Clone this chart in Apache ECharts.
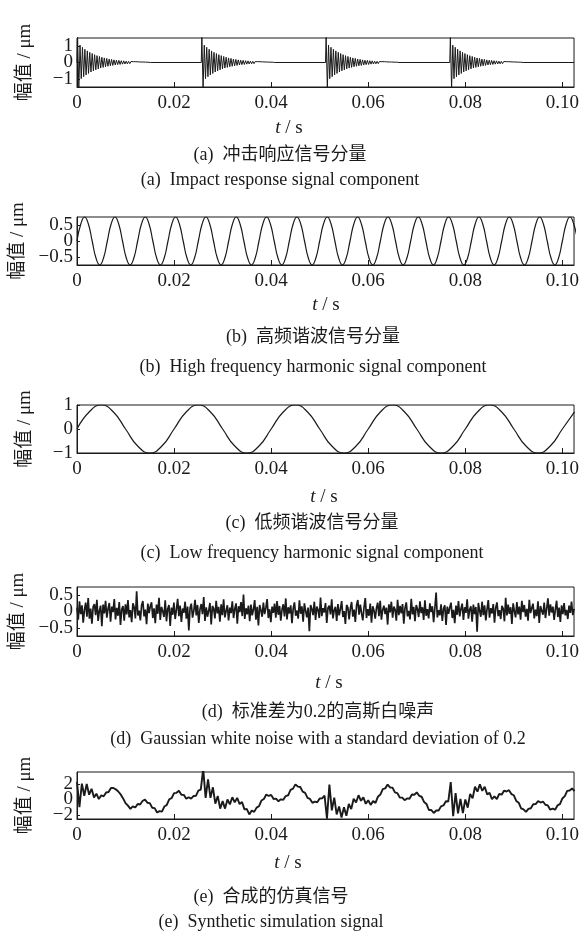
<!DOCTYPE html>
<html>
<head>
<meta charset="utf-8">
<script src="https://cdn.jsdelivr.net/npm/echarts@6/dist/echarts.min.js"></script>
<style>
html, body { margin: 0; padding: 0; background: #fff; }
#chart { width: 582px; height: 936px; }
</style>
</head>
<body>
<div id="chart"></div>
<script>
// x axis: time in s
const tEnd = 0.1024;
const xTicks = [0, 0.02, 0.04, 0.06, 0.08, 0.10];

// (a) impact response: start of each burst and the peaks inside one burst
const burstStarts = [0, 0.0256, 0.0512, 0.0768];
const burstStep = 0.00025;
const burstPeaks = [1.6, -1.6, 1.06, -0.99, 0.93, -0.87, 0.81, -0.76, 0.71, -0.67,
  0.62, -0.58, 0.55, -0.51, 0.48, -0.45, 0.42, -0.39, 0.37, -0.34,
  0.32, -0.30, 0.28, -0.26, 0.25, -0.23, 0.21, -0.20, 0.19, -0.18,
  0.16, -0.15, 0.14, -0.13, 0.13, -0.12, 0.11, -0.10, 0.10, -0.09,
  0.08, -0.08, 0.07, -0.07, 0.06, -0.06, 0.05, -0.05, 0.05, -0.04,
  0.04, -0.04, 0.03, -0.03, 0.03, -0.03, 0.02, -0.02, 0.02, -0.02];

// (b) high frequency harmonic, one value every 1/8 period
const hfStep = 0.00078125;
const hfValues = [
  0, 0.53, 0.75, 0.53, 0, -0.53, -0.75, -0.53, 0, 0.53, 0.75, 0.53, 0, -0.53, -0.75, -0.53,
  0, 0.53, 0.75, 0.53, 0, -0.53, -0.75, -0.53, 0, 0.53, 0.75, 0.53, 0, -0.53, -0.75, -0.53,
  0, 0.53, 0.75, 0.53, 0, -0.53, -0.75, -0.53, 0, 0.53, 0.75, 0.53, 0, -0.53, -0.75, -0.53,
  0, 0.53, 0.75, 0.53, 0, -0.53, -0.75, -0.53, 0, 0.53, 0.75, 0.53, 0, -0.53, -0.75, -0.53,
  0, 0.53, 0.75, 0.53, 0, -0.53, -0.75, -0.53, 0, 0.53, 0.75, 0.53, 0, -0.53, -0.75, -0.53,
  0, 0.53, 0.75, 0.53, 0, -0.53, -0.75, -0.53, 0, 0.53, 0.75, 0.53, 0, -0.53, -0.75, -0.53,
  0, 0.53, 0.75, 0.53, 0, -0.53, -0.75, -0.53, 0, 0.53, 0.75, 0.53, 0, -0.53, -0.75, -0.53,
  0, 0.53, 0.75, 0.53, 0, -0.53, -0.75, -0.53, 0, 0.53, 0.75, 0.53, 0, -0.53, -0.75, -0.53,
  0, 0.53, 0.75, 0.53, 0];

// (c) low frequency harmonic, one value every 1/8 period
const lfStep = 0.0025;
const lfValues = [
  0, 0.71, 1, 0.71, 0, -0.71, -1, -0.71, 0, 0.71, 1, 0.71, 0, -0.71, -1, -0.71,
  0, 0.71, 1, 0.71, 0, -0.71, -1, -0.71, 0, 0.71, 1, 0.71, 0, -0.71, -1, -0.71,
  0, 0.71, 1, 0.71, 0, -0.71, -1, -0.71, 0, 0.71];

// (d) gaussian white noise
const noiseStep = 0.000256;
const noiseValues = [
  0.12, -0.25, 0.31, -0.08, 0.19, -0.34, 0.05, 0.27, -0.16, 0.41, -0.22, 0.09, -0.37, 0.14, 0.23, -0.11, 0.36, -0.29, 0.02, 0.18,
  -0.45, 0.21, -0.06, 0.33, -0.19, 0.08, 0.26, -0.31, 0.15, -0.02, 0.38, -0.24, 0.11, -0.13, 0.29, -0.41, 0.07, 0.17, -0.28, 0.22,
  -0.09, 0.35, -0.18, 0.04, -0.33, 0.25, 0.13, -0.21, 0.62, -0.12, 0.03, -0.27, 0.19, 0.32, -0.15, 0.06, -0.39, 0.24, -0.05, 0.16,
  0.28, -0.2, 0.1, -0.36, 0.21, -0.07, 0.42, -0.26, 0.14, 0.01, -0.17, 0.34, -0.3, 0.08, 0.2, -0.44, 0.12, -0.1, 0.27, -0.23,
  0.05, 0.39, -0.14, 0.18, -0.32, 0.09, -0.04, 0.3, -0.22, 0.15, -0.58, 0.11, 0.24, -0.19, 0.02, 0.36, -0.12, 0.2, -0.35, 0.07,
  0.23, -0.08, 0.44, -0.29, 0.13, -0.16, 0.03, 0.26, -0.4, 0.17, 0.09, -0.21, 0.33, -0.06, 0.14, -0.31, 0.22, -0.11, 0.37, -0.18,
  0.01, 0.19, -0.27, 0.12, -0.05, 0.31, -0.2, 0.08, 0.25, -0.37, 0.16, -0.02, 0.29, -0.14, 0.52, -0.23, 0.1, -0.09, 0.18, -0.3,
  0.21, -0.12, 0.06, 0.35, -0.25, 0.14, -0.43, 0.2, 0.04, -0.16, 0.27, -0.08, 0.11, 0.38, -0.2, 0.07, -0.33, 0.15, -0.04, 0.24,
  -0.19, 0.32, -0.1, 0.17, -0.28, 0.06, 0.22, -0.15, 0.4, -0.24, 0.13, -0.06, 0.19, -0.36, 0.09, 0.28, -0.13, 0.03, -0.22, 0.34,
  -0.07, 0.16, -0.31, 0.25, 0.02, -0.18, 0.12, -0.6, 0.2, 0.08, -0.11, 0.3, -0.26, 0.15, 0.05, -0.2, 0.43, -0.14, 0.1, -0.03,
  0.26, -0.35, 0.11, 0.18, -0.09, 0.37, -0.21, 0.04, 0.14, -0.29, 0.23, -0.12, 0.08, 0.32, -0.17, 0.01, -0.38, 0.2, 0.12, -0.24,
  0.09, 0.29, -0.16, 0.06, -0.32, 0.19, 0.35, -0.1, 0.21, -0.05, -0.27, 0.13, 0.41, -0.2, 0.07, -0.13, 0.24, -0.34, 0.16, 0.03,
  -0.22, 0.1, 0.27, -0.14, 0.33, -0.25, 0.05, 0.18, -0.08, 0.12, -0.4, 0.22, -0.03, 0.3, -0.19, 0.15, 0.06, -0.28, 0.36, -0.11,
  0.17, -0.06, 0.23, -0.37, 0.11, 0.28, -0.15, 0.02, -0.24, 0.39, -0.09, 0.14, -0.3, 0.2, 0.08, -0.17, 0.31, -0.05, 0.13, -0.26,
  0.34, -0.13, 0.07, -0.21, 0.25, -0.02, 0.16, -0.33, 0.1, 0.58, -0.18, 0.04, -0.12, 0.22, -0.29, 0.09, 0.19, -0.41, 0.15, -0.07,
  0.12, 0.27, -0.2, 0.05, -0.36, 0.18, -0.1, 0.32, -0.15, 0.08, 0.24, -0.26, 0.13, -0.04, 0.37, -0.22, 0.06, 0.16, -0.31, 0.21,
  -0.08, 0.14, -0.62, 0.26, 0.03, -0.16, 0.3, -0.11, 0.19, -0.27, 0.07, 0.35, -0.19, 0.1, -0.06, 0.23, -0.34, 0.12, 0.28, -0.14,
  0.04, -0.23, 0.17, 0.09, -0.3, 0.42, -0.12, 0.21, -0.07, 0.13, -0.38, 0.25, 0.01, -0.18, 0.29, -0.09, 0.15, -0.25, 0.33, -0.02,
  0.2, -0.16, 0.08, -0.28, 0.36, -0.05, 0.11, 0.24, -0.21, 0.06, -0.14, 0.31, -0.35, 0.17, 0.02, -0.1, 0.27, -0.2, 0.09, 0.4,
  -0.13, 0.22, -0.03, 0.15, -0.26, 0.07, 0.33, -0.17, 0.12, -0.32, 0.19, -0.08, 0.26, -0.12, 0.05, -0.23, 0.18, -0.04, 0.3, -0.11,
  0.08];

// (e) synthetic simulation signal
const synthStep = 0.0005;
const synthValues = [
  2.25, -0.98, 2.02, 0.47, 1.97, 0.60, 1.35, 0.26, 0.73, 0.05, 0.52, 0.39, 0.88, 0.94, 1.46, 1.46, 1.29, 1.01, 0.64, 0.13,
  -0.47, -0.80, -1.21, -0.88, -1.03, -0.58, -0.65, -0.20, -0.03, -0.42, -0.47, -1.06, -1.11, -1.67, -1.50, -1.56, -0.91, -0.71, 0.02, 0.17,
  0.81, 0.84, 1.11, 0.60, 0.58, 0.08, 0.28, 0.10, 0.43, 0.46, 1.13, 1.26, 3.88, 0.19, 2.57, 0.20, 1.55, -0.54, 0.44, -1.17,
  -0.22, -1.17, -0.01, -0.63, 0.28, -0.38, 0.20, -0.59, -0.34, -1.27, -1.23, -1.91, -1.41, -1.59, -1.05, -0.87, -0.14, 0.06, 0.63, 0.44,
  0.58, 0.05, 0.10, -0.24, 0.01, -0.05, 0.43, 0.53, 1.22, 1.38, 1.92, 1.64, 1.59, 0.99, 0.83, 0.20, 0.06, -0.43, -0.28, -0.36,
  0.12, 0.14, 0.50, -2.45, 1.89, -1.39, 0.22, -1.92, -0.90, -2.31, -1.00, -2.09, -0.59, -1.23, 0.09, -0.39, 0.54, -0.17, 0.26, -0.56,
  -0.11, -0.70, -0.22, -0.44, 0.35, 0.62, 1.32, 1.41, 1.90, 1.53, 1.51, 0.90, 0.80, 0.25, 0.23, -0.10, 0.13, 0.09, 0.62, 0.59,
  0.90, 0.46, 0.34, -0.32, -0.58, -1.35, -1.36, -1.73, -1.42, -1.41, -0.89, -0.77, -0.24, -0.26, 2.22, -2.15, 0.80, -1.78, 0.08, -1.75,
  0.00, -1.05, 0.71, 0.13, 1.62, 0.99, 1.92, 1.09, 1.61, 0.64, 0.83, 0.02, 0.40, 0.05, 0.71, 0.60, 1.13, 1.01, 1.18, 0.68,
  0.53, -0.20, -0.42, -1.13, -1.27, -1.60, -1.21, -1.13, -0.62, -0.60, -0.21, -0.40, -0.27, -0.68, -0.77, -1.31, -1.18, -1.31, -0.77, -0.60,
  0.12, 0.42, 1.09, 1.14, 1.40, 1.06];

// y axes: range, outer tick labels, middle tick label
const yRanges = [[-1.5, 1.5], [-0.75, 0.75], [-1, 1], [-0.75, 0.75], [-2.5, 3.5]];
const yOuterTicks = [[-1, 1], [-0.5, 0.5], [-1, 1], [-0.5, 0.5], [-2, 2]];
const yMidTicks = [0];

const captionsCn = ['(a)  冲击响应信号分量', '(b)  高频谐波信号分量', '(c)  低频谐波信号分量',
  '(d)  标准差为0.2的高斯白噪声', '(e)  合成的仿真信号'];
const captionsEn = ['(a)  Impact response signal component', '(b)  High frequency harmonic signal component',
  '(c)  Low frequency harmonic signal component', '(d)  Gaussian white noise with a standard deviation of 0.2',
  '(e)  Synthetic simulation signal'];

// layout
const gridTops = [38, 217, 405, 587, 772];
const gridHeights = [49, 48, 48, 49, 47];
const tsX = [289, 326, 324, 329, 288];
const tsY = [128, 305, 497, 683, 863];
const capX = [280, 313, 312, 318, 271];
const cnY = [155, 337, 523, 712, 897];
const enY = [180, 367, 553, 739, 922];

const serif = "'Liberation Serif', 'Noto Sans CJK SC', serif";
const ink = '#1a1a1a';

function sampled(step, values) {
  return values.map((v, i) => [i * step, v]);
}

const impactData = [];
burstStarts.forEach(s => {
  impactData.push([s, 0]);
  burstPeaks.forEach((v, i) => impactData.push([s + (i + 0.5) * burstStep, v]));
  impactData.push([s + (burstPeaks.length + 0.5) * burstStep, 0]);
});
impactData.push([tEnd, 0]);

const seriesData = [
  impactData,
  sampled(hfStep, hfValues),
  sampled(lfStep, lfValues),
  sampled(noiseStep, noiseValues),
  sampled(synthStep, synthValues)
];
const smoothed = [false, true, true, false, false];
const widths = [1, 1.2, 1.2, 1.7, 1.9];

const yLabelStyle = {
  margin: 4, color: ink, fontSize: 19, fontFamily: serif,
  hideOverlap: false, showMinLabel: true, showMaxLabel: true,
  formatter: v => String(v).replace('-', '\u2212')
};

const grid = [], xAxis = [], yAxis = [], series = [], graphic = [];
for (let i = 0; i < 5; i++) {
  grid.push({
    left: 77, right: 4, top: gridTops[i], height: gridHeights[i],
    show: true, borderColor: ink, borderWidth: 1
  });
  xAxis.push({
    gridIndex: i, type: 'value', min: 0, max: tEnd,
    axisLine: {show: true, onZero: false, lineStyle: {color: ink}},
    axisTick: {show: true, inside: true, length: 5, customValues: xTicks, lineStyle: {color: ink}},
    axisLabel: {
      customValues: xTicks, margin: 7, color: ink, fontSize: 19, fontFamily: serif,
      hideOverlap: false,
      formatter: v => v === 0 ? '0' : v.toFixed(2)
    },
    splitLine: {show: false}
  });
  yAxis.push({
    gridIndex: i, type: 'value', min: yRanges[i][0], max: yRanges[i][1],
    name: '幅值 / μm', nameLocation: 'middle', nameRotate: 90, nameGap: 42,
    nameTextStyle: {color: ink, fontSize: 19, fontFamily: serif},
    axisLine: {show: true, onZero: false, lineStyle: {color: ink}},
    axisTick: {show: true, inside: true, length: 3, customValues: yOuterTicks[i].concat(yMidTicks), lineStyle: {color: ink}},
    axisLabel: Object.assign({customValues: yOuterTicks[i]}, yLabelStyle),
    splitLine: {show: false}
  });
  series.push({
    type: 'line', xAxisIndex: i, yAxisIndex: i, data: seriesData[i],
    showSymbol: false, smooth: smoothed[i], clip: true,
    lineStyle: {color: ink, width: widths[i]}
  });
  graphic.push({
    type: 'text', x: tsX[i], y: tsY[i],
    style: {
      text: '{i|t} / s', align: 'center', verticalAlign: 'middle',
      textAlign: 'center', textVerticalAlign: 'middle',
      fill: ink, fontSize: 19, fontFamily: serif,
      rich: {i: {fontStyle: 'italic', fontSize: 19, fontFamily: serif, fill: ink}}
    }
  });
  graphic.push({
    type: 'text', x: capX[i], y: cnY[i],
    style: {
      text: captionsCn[i], align: 'center', verticalAlign: 'middle',
      textAlign: 'center', textVerticalAlign: 'middle',
      fill: ink, fontSize: 18, fontFamily: serif
    }
  });
  graphic.push({
    type: 'text', x: capX[i], y: enY[i],
    style: {
      text: captionsEn[i], align: 'center', verticalAlign: 'middle',
      textAlign: 'center', textVerticalAlign: 'middle',
      fill: ink, fontSize: 18, fontFamily: serif
    }
  });
}
// second left axis per panel, only for the middle "0" label
for (let i = 0; i < 5; i++) {
  yAxis.push({
    gridIndex: i, type: 'value', position: 'left', min: yRanges[i][0], max: yRanges[i][1],
    axisLine: {show: false}, axisTick: {show: false}, splitLine: {show: false},
    axisLabel: Object.assign({customValues: yMidTicks}, yLabelStyle)
  });
}

const chart = echarts.init(document.getElementById('chart'), null, {renderer: 'canvas'});
chart.setOption({
  animation: false,
  backgroundColor: '#fff',
  grid, xAxis, yAxis, series, graphic
});
</script>
</body>
</html>
